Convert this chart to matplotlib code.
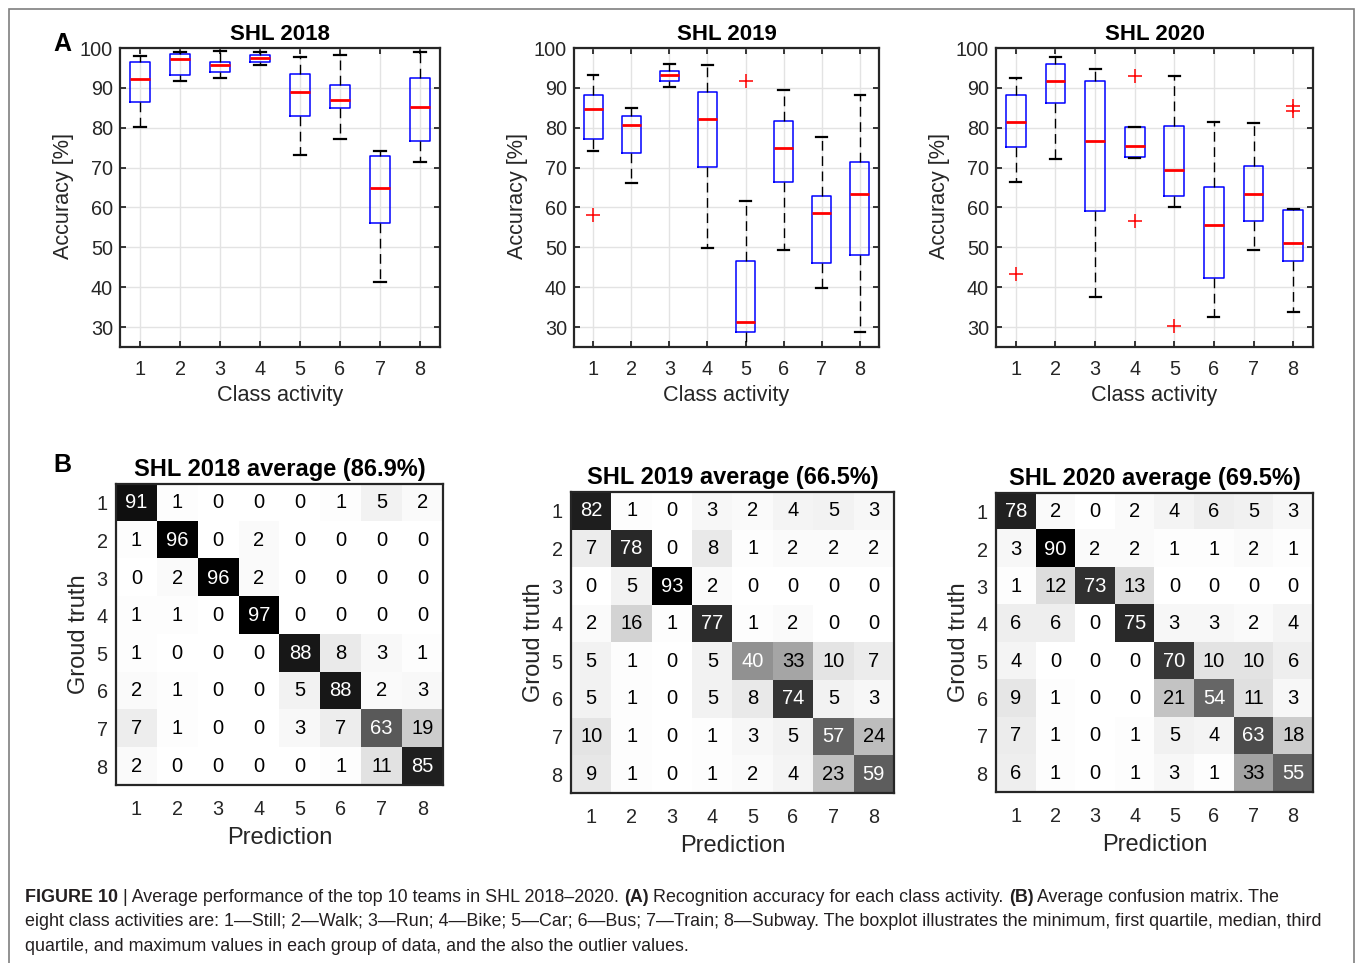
import matplotlib
matplotlib.use("Agg")
import matplotlib.pyplot as plt
import numpy as np
from matplotlib.patches import Rectangle

plt.rcParams['font.family'] = ['Liberation Sans', 'DejaVu Sans']

# ---------------- data ----------------
classes = [1, 2, 3, 4, 5, 6, 7, 8]
box_titles = ["SHL 2018", "SHL 2019", "SHL 2020"]

lo_2018 = [80.2, 91.8, 92.5, 95.8, 73.1, 77.1, 41.3, 71.3]
q1_2018 = [86.4, 93.2, 94.1, 96.6, 83.0, 85.0, 56.1, 76.7]
med_2018 = [92.2, 97.2, 95.8, 97.6, 89.0, 87.0, 64.8, 85.2]
q3_2018 = [96.6, 98.4, 96.6, 98.2, 93.4, 90.8, 72.9, 92.4]
hi_2018 = [98.1, 99.1, 99.3, 99.1, 97.8, 98.3, 74.1, 99.1]
fl_2018 = [[], [], [], [], [], [], [], []]

lo_2019 = [74.1, 66.2, 90.3, 49.9, 20.0, 49.3, 39.7, 28.7]
q1_2019 = [77.2, 73.6, 91.8, 70.2, 28.7, 66.4, 46.1, 48.0]
med_2019 = [84.7, 80.6, 93.3, 82.2, 31.2, 74.9, 58.5, 63.3]
q3_2019 = [88.2, 82.9, 94.3, 89.0, 46.5, 81.8, 63.0, 71.5]
hi_2019 = [93.3, 84.9, 96.1, 95.8, 61.7, 89.4, 77.6, 88.2]
fl_2019 = [[58.2], [], [], [], [91.7], [], [], []]

lo_2020 = [66.5, 72.1, 37.6, 72.5, 60.0, 32.5, 49.4, 33.8]
q1_2020 = [75.1, 86.2, 59.0, 72.7, 62.9, 42.4, 56.5, 46.5]
med_2020 = [81.4, 91.8, 76.6, 75.4, 69.3, 55.5, 63.3, 51.2]
q3_2020 = [88.1, 95.9, 91.6, 80.2, 80.4, 65.2, 70.3, 59.3]
hi_2020 = [92.4, 97.8, 94.8, 80.2, 93.0, 81.4, 81.2, 59.5]
fl_2020 = [[43.3], [], [], [93.0, 56.7], [30.3], [], [], [85.5, 84.2]]

cm_titles = ["SHL 2018 average (86.9%)", "SHL 2019 average (66.5%)",
             "SHL 2020 average (69.5%)"]
cm_2018 = [[91, 1, 0, 0, 0, 1, 5, 2],
           [1, 96, 0, 2, 0, 0, 0, 0],
           [0, 2, 96, 2, 0, 0, 0, 0],
           [1, 1, 0, 97, 0, 0, 0, 0],
           [1, 0, 0, 0, 88, 8, 3, 1],
           [2, 1, 0, 0, 5, 88, 2, 3],
           [7, 1, 0, 0, 3, 7, 63, 19],
           [2, 0, 0, 0, 0, 1, 11, 85]]
cm_2019 = [[82, 1, 0, 3, 2, 4, 5, 3],
           [7, 78, 0, 8, 1, 2, 2, 2],
           [0, 5, 93, 2, 0, 0, 0, 0],
           [2, 16, 1, 77, 1, 2, 0, 0],
           [5, 1, 0, 5, 40, 33, 10, 7],
           [5, 1, 0, 5, 8, 74, 5, 3],
           [10, 1, 0, 1, 3, 5, 57, 24],
           [9, 1, 0, 1, 2, 4, 23, 59]]
cm_2020 = [[78, 2, 0, 2, 4, 6, 5, 3],
           [3, 90, 2, 2, 1, 1, 2, 1],
           [1, 12, 73, 13, 0, 0, 0, 0],
           [6, 6, 0, 75, 3, 3, 2, 4],
           [4, 0, 0, 0, 70, 10, 10, 6],
           [9, 1, 0, 0, 21, 54, 11, 3],
           [7, 1, 0, 1, 5, 4, 63, 18],
           [6, 1, 0, 1, 3, 1, 33, 55]]

# ---------------- figure ----------------
W, H = 1355, 963
fig = plt.figure(figsize=(W / 100, H / 100), dpi=100)
TXT = '#262626'


def axes_px(x0, y0, x1, y1):
    return fig.add_axes([x0 / W, 1 - y1 / H, (x1 - x0) / W, (y1 - y0) / H])


def ftext(x, y, s, **kw):
    return fig.text(x / W, 1 - y / H, s, **kw)


# outer frame
fig.add_artist(Rectangle((9 / W, -0.05), (1354 - 9) / W, 1 - 9 / H + 0.05,
                         transform=fig.transFigure, fill=False,
                         edgecolor='#7f7f7f', lw=1.2))

box_sets = [
    (lo_2018, q1_2018, med_2018, q3_2018, hi_2018, fl_2018),
    (lo_2019, q1_2019, med_2019, q3_2019, hi_2019, fl_2019),
    (lo_2020, q1_2020, med_2020, q3_2020, hi_2020, fl_2020),
]
box_pos = [(120, 48, 440, 347), (574, 48, 879, 347), (996, 48, 1313, 347)]

for (lo, q1, med, q3, hi, fl), pos, title in zip(box_sets, box_pos, box_titles):
    ax = axes_px(*pos)
    stats = []
    for i in range(len(classes)):
        stats.append(dict(whislo=lo[i], q1=q1[i], med=med[i], q3=q3[i],
                          whishi=hi[i], fliers=fl[i]))
    ax.bxp(stats, positions=classes, widths=0.5, capwidths=0.28,
           showfliers=True,
           boxprops=dict(color='#0000ff', lw=1.1),
           medianprops=dict(color='#ff0000', lw=2),
           whiskerprops=dict(color='black', lw=1, linestyle=(0, (7, 4))),
           capprops=dict(color='black', lw=1.6),
           flierprops=dict(marker='+', markeredgecolor='#ff0000',
                           markersize=10, markeredgewidth=1.1))
    ax.set_xlim(0.5, 8.5)
    ax.set_ylim(25, 100)
    ax.set_yticks([30, 40, 50, 60, 70, 80, 90, 100])
    ax.set_xticks(classes)
    ax.set_xticklabels([str(c) for c in classes])
    ax.grid(True, color='#e3e3e3', lw=1)
    ax.set_axisbelow(True)
    for sp in ax.spines.values():
        sp.set_color(TXT)
        sp.set_linewidth(1.6)
    ax.tick_params(direction='in', length=4, width=1.3, color=TXT,
                   labelsize=14.3, labelcolor=TXT, top=True, right=True)
    ax.tick_params(axis='x', pad=9)
    ax.tick_params(axis='y', pad=5)
    ax.set_title(title, fontsize=16, fontweight='bold', color='black', pad=6)
    cx = (pos[0] + pos[2]) / 2
    ftext(cx, 395, "Class activity", fontsize=15.6, color=TXT,
          ha='center', va='center')
    ftext(pos[0] - 57, 196, "Accuracy [%]", fontsize=15.6, color=TXT,
          ha='center', va='center', rotation=90)

cm_sets = [cm_2018, cm_2019, cm_2020]
cm_pos = [(116, 484, 443, 785), (571, 492, 894, 793), (996, 493, 1313, 792)]
for cm, pos, title in zip(cm_sets, cm_pos, cm_titles):
    ax = axes_px(*pos)
    M = np.array(cm, dtype=float)
    vmax = M.max()
    ax.imshow(M, cmap='gray_r', vmin=0, vmax=vmax, aspect='auto',
              interpolation='nearest',
              extent=(0.5, 8.5, 8.5, 0.5))
    for i in range(M.shape[0]):
        for j in range(M.shape[1]):
            v = M[i, j]
            c = 'white' if v / vmax > 0.4 else 'black'
            ax.text(j + 1, i + 1, f"{int(v)}", ha='center', va='center',
                    fontsize=14.5, color=c)
    ax.set_xticks(classes)
    ax.set_yticks(classes)
    ax.set_xticklabels([str(c) for c in classes])
    ax.set_yticklabels([str(c) for c in classes])
    ax.tick_params(length=0, labelsize=14.3, labelcolor=TXT)
    ax.tick_params(axis='x', pad=11)
    ax.tick_params(axis='y', pad=6)
    for sp in ax.spines.values():
        sp.set_color(TXT)
        sp.set_linewidth(1.6)
    ax.set_title(title, fontsize=17, fontweight='bold', color='black', pad=6)
    cx = (pos[0] + pos[2]) / 2
    ftext(cx, pos[3] + 53, "Prediction", fontsize=17, color=TXT,
          ha='center', va='center')
    ftext(pos[0] - 37, (pos[1] + pos[3]) / 2, "Groud truth", fontsize=17,
          color=TXT, ha='center', va='center', rotation=90)

# panel letters
ftext(62, 44, "A", fontsize=18, fontweight='bold', ha='center', va='center')
ftext(62, 465, "B", fontsize=18, fontweight='bold', ha='center', va='center')

# caption
renderer = fig.canvas.get_renderer()
CAP = '#231f20'
cap_lines = [
    [("FIGURE 10", 'bold'),
     (" | Average performance of the top 10 teams in SHL 2018\u20132020. ", 'normal'),
     ("(A)", 'bold'),
     (" Recognition accuracy for each class activity. ", 'normal'),
     ("(B)", 'bold'),
     (" Average confusion matrix. The", 'normal')],
    [("eight class activities are: 1\u2014Still; 2\u2014Walk; 3\u2014Run; 4\u2014Bike; "
      "5\u2014Car; 6\u2014Bus; 7\u2014Train; 8\u2014Subway. The boxplot illustrates the "
      "minimum, first quartile, median, third", 'normal')],
    [("quartile, and maximum values in each group of data, and the also the "
      "outlier values.", 'normal')],
]
cap_y = [897, 921, 946]
for segs, yy in zip(cap_lines, cap_y):
    x = 25.0
    for s, wgt in segs:
        t = ftext(x, yy, s, fontsize=12.9, fontweight=wgt, color=CAP,
                  ha='left', va='center')
        bb = t.get_window_extent(renderer)
        x += bb.width

fig.savefig("out.png", dpi=100)
